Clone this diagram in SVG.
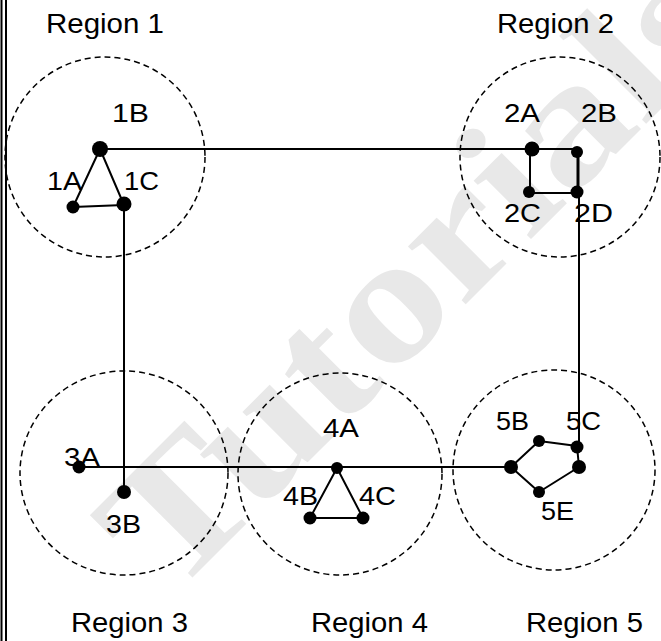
<svg xmlns="http://www.w3.org/2000/svg" width="661" height="641" viewBox="0 0 661 641">
<style>
.bg{fill:#ffffff}
.wm{fill:#e8e8e8;font-family:"Liberation Serif","Times New Roman",serif;font-weight:bold;font-size:178px}
.region{fill:none;stroke:#000;stroke-width:1.5;stroke-dasharray:6 4}
.edge{fill:none;stroke:#000;stroke-width:2;stroke-linejoin:round}
.dot{fill:#000}
.lbl{fill:#000;font-family:"Liberation Sans",Arial,sans-serif;font-size:26px}
.rlbl{fill:#000;font-family:"Liberation Sans",Arial,sans-serif;font-size:28px}
.border{stroke:#000;stroke-width:2}
</style>
<rect class="bg" x="0" y="0" width="661" height="641"/>
<text class="wm" transform="translate(170,600) rotate(-45) scale(1.18,1)">Tutorials</text>
<g id="border">
<line class="border" x1="1.5" y1="0" x2="1.5" y2="641"/>
<line class="border" x1="6" y1="0" x2="6" y2="641"/>
</g>
<g id="regions">
<g id="region1"><circle class="region" cx="105" cy="157" r="100"/><text class="rlbl" x="46" y="33" textLength="118" lengthAdjust="spacingAndGlyphs">Region 1</text></g>
<g id="region2"><circle class="region" cx="560" cy="157" r="100"/><text class="rlbl" x="497" y="33" textLength="117" lengthAdjust="spacingAndGlyphs">Region 2</text></g>
<g id="region3"><ellipse class="region" cx="124" cy="473" rx="104" ry="102"/><text class="rlbl" x="71" y="632" textLength="117" lengthAdjust="spacingAndGlyphs">Region 3</text></g>
<g id="region4"><ellipse class="region" cx="340" cy="474" rx="102" ry="101"/><text class="rlbl" x="311" y="632" textLength="117" lengthAdjust="spacingAndGlyphs">Region 4</text></g>
<g id="region5"><ellipse class="region" cx="554" cy="470" rx="101" ry="100"/><text class="rlbl" x="526" y="632" textLength="117" lengthAdjust="spacingAndGlyphs">Region 5</text></g>
</g>
<g id="connectors">
<line class="edge" x1="100" y1="149" x2="532" y2="149"/>
<polygon class="edge" points="100,149 73,207 124,205"/>
<polyline class="edge" points="532,149 577,149"/>
<polyline class="edge" points="530,149 530,193 578,193"/>
<line class="edge" x1="578" y1="151" x2="578" y2="193" style="stroke-width:3"/>
<line class="edge" x1="579" y1="193" x2="579" y2="447"/>
<line class="edge" x1="124" y1="204" x2="124" y2="492"/>
<line class="edge" x1="79" y1="467" x2="511" y2="467"/>
<polygon class="edge" points="337,468 310,518 363,518"/>
<polygon class="edge" points="511,467 539,441 577,446 579,467 539,492"/>
</g>
<g id="node-1B"><circle class="dot" cx="100" cy="149" r="8"/><text class="lbl" x="112" y="122" textLength="37" lengthAdjust="spacingAndGlyphs">1B</text></g>
<g id="node-1A"><circle class="dot" cx="73" cy="207" r="6.5"/><text class="lbl" x="47" y="190" textLength="35" lengthAdjust="spacingAndGlyphs">1A</text></g>
<g id="node-1C"><circle class="dot" cx="124" cy="204" r="7.5"/><text class="lbl" x="124" y="190" textLength="35" lengthAdjust="spacingAndGlyphs">1C</text></g>
<g id="node-2A"><circle class="dot" cx="532" cy="149" r="7.5"/><text class="lbl" x="504" y="122" textLength="36" lengthAdjust="spacingAndGlyphs">2A</text></g>
<g id="node-2B"><circle class="dot" cx="577" cy="152" r="6"/><text class="lbl" x="581" y="122" textLength="36" lengthAdjust="spacingAndGlyphs">2B</text></g>
<g id="node-2C"><circle class="dot" cx="529" cy="192" r="6"/><text class="lbl" x="504" y="222" textLength="37" lengthAdjust="spacingAndGlyphs">2C</text></g>
<g id="node-2D"><circle class="dot" cx="577" cy="192" r="6.5"/><text class="lbl" x="574" y="222" textLength="39" lengthAdjust="spacingAndGlyphs">2D</text></g>
<g id="node-3A"><circle class="dot" cx="79" cy="467" r="6.5"/><text class="lbl" x="64" y="466" textLength="36" lengthAdjust="spacingAndGlyphs">3A</text></g>
<g id="node-3B"><circle class="dot" cx="124" cy="492" r="7"/><text class="lbl" x="106" y="533" textLength="35" lengthAdjust="spacingAndGlyphs">3B</text></g>
<g id="node-4A"><circle class="dot" cx="337" cy="468" r="6"/><text class="lbl" x="323" y="437" textLength="36" lengthAdjust="spacingAndGlyphs">4A</text></g>
<g id="node-4B"><circle class="dot" cx="310" cy="518" r="6.5"/><text class="lbl" x="283" y="505" textLength="35" lengthAdjust="spacingAndGlyphs">4B</text></g>
<g id="node-4C"><circle class="dot" cx="363" cy="518" r="6.5"/><text class="lbl" x="359" y="505" textLength="37" lengthAdjust="spacingAndGlyphs">4C</text></g>
<g id="node-5A"><circle class="dot" cx="511" cy="467" r="7"/></g>
<g id="node-5B"><circle class="dot" cx="539" cy="441" r="6"/><text class="lbl" x="496" y="430" textLength="33" lengthAdjust="spacingAndGlyphs">5B</text></g>
<g id="node-5C"><circle class="dot" cx="577" cy="447" r="6.5"/><text class="lbl" x="566" y="430" textLength="35" lengthAdjust="spacingAndGlyphs">5C</text></g>
<g id="node-5D"><circle class="dot" cx="579" cy="467" r="7"/></g>
<g id="node-5E"><circle class="dot" cx="539" cy="492" r="6"/><text class="lbl" x="541" y="520" textLength="33" lengthAdjust="spacingAndGlyphs">5E</text></g>
</svg>
